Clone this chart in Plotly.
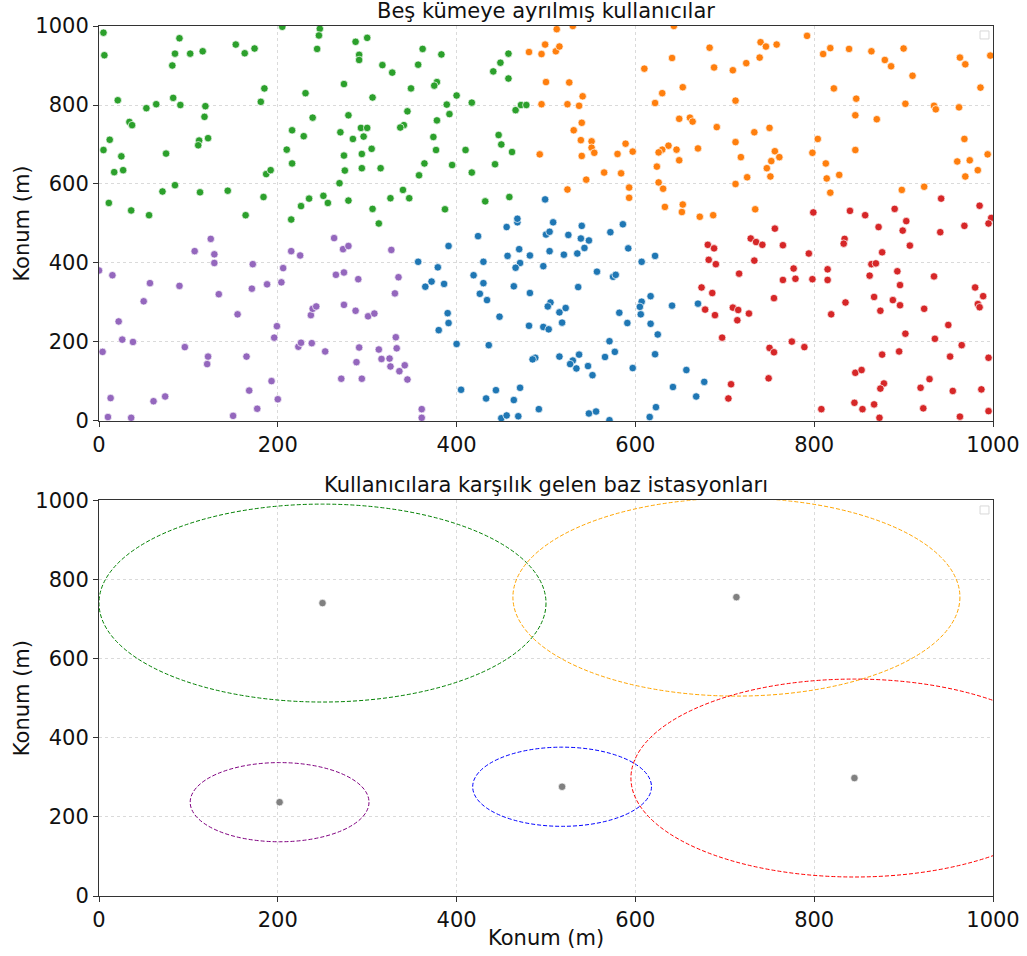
import plotly.graph_objects as go
from plotly.subplots import make_subplots

# ---------------- data: users per cluster ----------------
green_x = [5, 6, 90, 85, 82, 102, 116, 153, 163, 174, 205, 247, 246, 244, 21, 53, 64, 83, 91, 119, 118, 185, 181, 231, 239,
           34, 37, 12, 5, 25, 17, 27, 75, 112, 111, 122, 85, 71, 113, 144, 184, 187, 192, 210, 216, 216, 229, 11, 36, 56,
           164, 215, 226, 235, 251, 256,
           287, 300, 291, 291, 317, 328, 362, 383, 357, 274, 306, 349, 378, 375, 400, 417, 389, 392, 345, 279, 270, 284,
           293, 300, 296, 305, 294, 274, 275, 294, 315, 341, 337, 378, 374, 377, 364, 358, 395, 410, 417, 269, 279, 326,
           340, 347, 306, 387, 313, 458, 449, 441, 458, 466, 472, 478, 447, 450, 462, 443, 432, 459]
green_y = [983, 926, 969, 930, 900, 930, 936, 953, 931, 943, 998, 993, 976, 942, 812, 792, 802, 818, 800, 797, 770, 842, 808, 830, 768,
           757, 749, 712, 686, 670, 630, 635, 677, 710, 698, 716, 597, 581, 579, 583, 567, 625, 635, 687, 736, 652, 721, 552, 533, 521,
           521, 510, 544, 563, 570, 552,
           960, 970, 927, 914, 901, 882, 942, 928, 902, 853, 819, 842, 858, 849, 824, 806, 801, 777, 784, 774, 731, 714,
           742, 742, 720, 689, 676, 672, 634, 640, 640, 749, 743, 761, 719, 686, 652, 622, 648, 686, 629, 602, 558, 564,
           585, 564, 537, 536, 500, 930, 907, 885, 867, 787, 800, 800, 724, 700, 681, 650, 556, 567]

orange_x = [481, 495, 499, 511, 500, 495, 493, 512, 530, 515, 526, 541, 524, 537, 540, 531, 539, 551, 551, 554, 540, 589, 580,
            597, 565, 584, 545, 524, 593, 593, 643, 641, 610, 683, 688, 709, 724, 739, 740, 746, 758, 630, 653, 622, 712,
            649, 661, 664, 691, 733, 750, 637, 630, 626, 646, 670, 649, 624, 712, 718, 756, 752, 761, 747, 751, 725, 712,
            626, 631, 633, 653, 652, 672, 687, 734,
            792, 810, 818, 839, 864, 900, 879, 886, 910, 963, 969, 997, 986, 822, 847, 902, 934, 936, 962, 846, 870, 804,
            798, 813, 814, 828, 846, 818, 898, 923, 968, 994, 960, 974, 983, 969]
orange_y = [934, 929, 953, 936, 858, 802, 675, 992, 1000, 948, 857, 822, 802, 798, 755, 736, 711, 708, 692, 679, 671, 702, 676,
            682, 629, 627, 611, 586, 591, 565, 1000, 919, 892, 945, 895, 888, 906, 920, 959, 948, 953, 830, 845, 805, 811,
            765, 768, 758, 744, 731, 742, 697, 687, 680, 687, 690, 660, 644, 706, 668, 683, 658, 668, 640, 619, 617, 600,
            604, 588, 542, 548, 529, 517, 521, 536,
            975, 929, 944, 942, 936, 943, 914, 898, 874, 920, 903, 925, 844, 842, 816, 803, 798, 789, 794, 774, 764, 714,
            679, 652, 614, 623, 686, 578, 585, 593, 714, 675, 657, 660, 635, 619]

red_x = [799, 840, 857, 890, 903, 942, 985, 998, 995,
         681, 688, 682, 690, 729, 735, 742, 733, 756, 716, 674, 686, 678, 689, 709, 715, 714, 727, 755, 697, 750, 755, 749,
         707, 704,
         765, 794, 777, 765, 779, 798, 775, 789, 872, 899, 834, 833, 876, 907, 941, 968, 864, 869, 815, 815, 862, 893, 896,
         934, 980, 989, 983, 985, 835, 867, 888, 896, 874, 923, 819, 950, 902, 935, 965, 876, 895, 952, 995, 846, 853, 878,
         874, 919, 929, 955, 987, 845, 854, 867, 808, 873, 922, 963, 995]
red_y = [528, 532, 521, 537, 506, 563, 545, 514, 500,
         446, 437, 408, 397, 462, 453, 446, 406, 487, 373, 338, 324, 282, 268, 287, 281, 255, 272, 311, 211, 185, 174, 108,
         93, 57,
         445, 424, 386, 357, 360, 359, 201, 187, 491, 482, 461, 449, 427, 444, 478, 494, 397, 399, 384, 357, 368, 379, 344,
         366, 338, 316, 296, 288, 300, 314, 306, 293, 279, 284, 270, 243, 221, 208, 192, 168, 176, 163, 160, 122, 129, 95,
         82, 84, 106, 76, 80, 46, 30, 42, 30, 8, 32, 11, 25]

blue_x = [499, 508, 468, 468, 391, 357, 379, 372, 365, 386, 390, 391, 380, 400, 405, 433, 444, 464, 471, 492, 450, 456, 469,
          424, 456, 500, 504, 504, 430, 457, 470, 482, 471, 466, 497, 419, 430, 464, 426, 434, 482, 505, 502, 448, 481, 497,
          503, 436, 488, 485,
          540, 586, 525, 539, 548, 572, 543, 520, 535, 592, 557, 575, 578, 536, 607, 622, 522, 515, 518, 582, 591, 617, 607,
          605, 606, 617, 625, 641, 670, 571, 577, 566, 537, 515, 530, 527, 534, 547, 552, 597, 622, 657, 642, 677, 668, 548,
          556, 571, 623, 616]
blue_y = [561, 503, 503, 512, 443, 403, 389, 353, 340, 347, 273, 248, 230, 195, 79, 57, 78, 53, 84, 30, 7, 14, 12,
          468, 491, 472, 479, 430, 403, 418, 435, 419, 400, 388, 392, 369, 349, 341, 322, 306, 324, 300, 290, 264, 241, 238,
          232, 192, 160, 156,
          494, 498, 471, 462, 457, 478, 438, 421, 424, 437, 378, 365, 370, 339, 403, 418, 286, 275, 249, 274, 248, 316, 302,
          289, 270, 246, 219, 292, 297, 202, 175, 162, 168, 163, 153, 144, 133, 139, 116, 134, 169, 129, 86, 99, 62, 19,
          24, 2, 35, 10]

purple_x = [125, 107, 129, 129, 0, 15, 57, 90, 134, 50, 22, 26, 38, 4, 96, 122, 121, 155, 172, 171, 188, 206, 204, 215, 225,
            199, 196, 237, 239, 243, 223, 226, 238, 253, 165, 193, 168, 200, 177, 150, 13, 61, 74, 10, 36,
            263, 273, 279, 327, 265, 274, 290, 335, 331, 274, 287, 301, 308, 332, 291, 313, 333, 288, 316, 325, 326, 342,
            336, 345, 271, 294, 361, 361]
purple_y = [461, 430, 422, 400, 381, 369, 349, 342, 321, 303, 252, 206, 200, 175, 187, 163, 144, 270, 397, 335, 346, 387, 351,
            430, 419, 240, 211, 268, 284, 290, 188, 198, 197, 176, 163, 101, 77, 55, 31, 13, 58, 50, 62, 10, 8,
            463, 435, 443, 433, 370, 376, 359, 364, 323, 294, 279, 265, 272, 212, 186, 181, 184, 149, 157, 158, 138, 141,
            126, 105, 107, 107, 30, 8]

# ---------------- data: base stations ----------------
station_x = [250, 713, 845, 518, 202]
station_y = [740, 755, 298, 276, 237]
station_r = [250, 250, 250, 100, 100]
station_colors = ["green", "orange", "red", "blue", "purple"]

# ---------------- labels ----------------
title_top = "Beş kümeye ayrılmış kullanıcılar"
title_bottom = "Kullanıcılara karşılık gelen baz istasyonları"
axis_label = "Konum (m)"
tick_vals = [0, 200, 400, 600, 800, 1000]

FONT = "DejaVu Sans"
TXT = "#111111"
FS = 21

fig = make_subplots(rows=2, cols=1, vertical_spacing=0.0)

clusters = [
    (blue_x, blue_y, "#1f77b4"),
    (orange_x, orange_y, "#ff7f0e"),
    (green_x, green_y, "#2ca02c"),
    (red_x, red_y, "#d62728"),
    (purple_x, purple_y, "#9467bd"),
]
for xs, ys, c in clusters:
    fig.add_trace(go.Scatter(x=xs, y=ys, mode="markers", showlegend=False,
                             marker=dict(color=c, size=7.5, line=dict(color="white", width=0.7))),
                  row=1, col=1)

fig.add_trace(go.Scatter(x=station_x, y=station_y, mode="markers", showlegend=False,
                         marker=dict(color="#808080", size=7.5, line=dict(color="white", width=0.7))),
              row=2, col=1)

for cx, cy, r, c in zip(station_x, station_y, station_r, station_colors):
    fig.add_shape(type="circle", xref="x2", yref="y2",
                  x0=cx - r, x1=cx + r, y0=cy - r, y1=cy + r,
                  line=dict(color=c, width=1, dash="4px,2px"), fillcolor="rgba(0,0,0,0)")

axis_style = dict(range=[0, 1000], tickvals=tick_vals, showline=True, mirror=True, linecolor="#333",
                  linewidth=1, ticks="outside", ticklen=5, tickwidth=1, tickcolor="#333",
                  showgrid=True, gridcolor="#dadada", griddash="dot", gridwidth=1, zeroline=False,
                  automargin=False, tickfont=dict(family=FONT, size=FS, color=TXT))

fig.update_xaxes(**axis_style)
fig.update_yaxes(**axis_style)
fig.update_yaxes(domain=[0.546, 1.0], row=1, col=1)
fig.update_yaxes(domain=[0.0, 0.455], row=2, col=1)

# empty legend boxes (matplotlib style)
for y0, y1 in [(0.9851, 0.9943), (0.4391, 0.4483)]:
    fig.add_shape(type="rect", xref="paper", yref="paper", x0=0.9855, x1=0.9955, y0=y0, y1=y1,
                  line=dict(color="#d8d8d8", width=1), fillcolor="white")

for text, y in [(title_top, 1.0), (title_bottom, 0.455)]:
    fig.add_annotation(text=text, x=0.5, y=y, xref="paper", yref="paper",
                       xanchor="center", yanchor="bottom", yshift=1, showarrow=False,
                       font=dict(family=FONT, size=FS, color=TXT))

fig.add_annotation(text=axis_label, x=-0.086, y=0.773, xref="paper", yref="paper", textangle=-90,
                   showarrow=False, xanchor="center", yanchor="middle",
                   font=dict(family=FONT, size=FS, color=TXT))
fig.add_annotation(text=axis_label, x=-0.086, y=0.2275, xref="paper", yref="paper", textangle=-90,
                   showarrow=False, xanchor="center", yanchor="middle",
                   font=dict(family=FONT, size=FS, color=TXT))
fig.add_annotation(text=axis_label, x=0.5, y=0, yshift=-28, xref="paper", yref="paper",
                   showarrow=False, xanchor="center", yanchor="top",
                   font=dict(family=FONT, size=FS, color=TXT))

fig.update_layout(width=1027, height=956, margin=dict(l=99, r=34, t=26, b=60, autoexpand=False),
                  plot_bgcolor="white", paper_bgcolor="white", showlegend=False,
                  font=dict(family=FONT, color=TXT))

fig.write_html("out.html", config={"displayModeBar": False},
               post_script="document.body.style.margin='0';document.body.style.overflow='hidden';"
                           "document.documentElement.style.overflow='hidden';")
